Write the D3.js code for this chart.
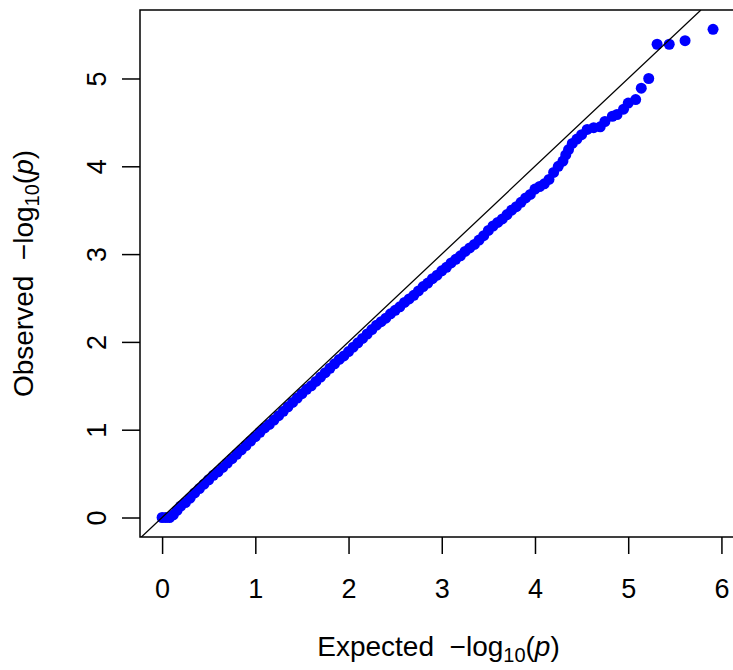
<!DOCTYPE html>
<html>
<head>
<meta charset="utf-8">
<script src="https://cdn.jsdelivr.net/npm/d3@7"></script>
<style>
  body { margin: 0; background: #fff; }
  text { font-family: "Liberation Sans", Arial, sans-serif; fill: #000; }
</style>
</head>
<body>
<div id="chart"></div>
<script>
let width = 733
let height = 670

// QQ points: expected vs observed -log10(p)
let expected = [
  0.00, 0.04, 0.08, 0.12, 0.16, 0.20, 0.25, 0.30, 0.35, 0.40,
  0.45, 0.50, 0.55, 0.60, 0.65, 0.70, 0.75, 0.80, 0.85, 0.90,
  0.95, 1.00, 1.05, 1.10, 1.15, 1.20, 1.25, 1.30, 1.35, 1.40,
  1.45, 1.50, 1.55, 1.60, 1.65, 1.70, 1.75, 1.80, 1.85, 1.90,
  1.95, 2.00, 2.05, 2.10, 2.15, 2.20, 2.25, 2.30, 2.35, 2.40,
  2.45, 2.50, 2.55, 2.60, 2.65, 2.70, 2.75, 2.80, 2.85, 2.90,
  2.95, 3.00, 3.05, 3.10, 3.15, 3.20, 3.25, 3.30, 3.35, 3.40,
  3.45, 3.50, 3.55, 3.60, 3.65, 3.70, 3.75, 3.80, 3.85, 3.90,
  3.95, 4.00, 4.05, 4.10, 4.15, 4.20, 4.25, 4.30, 4.33, 4.36,
  4.40, 4.45, 4.50, 4.56, 4.63, 4.70, 4.75, 4.83, 4.88, 4.95,
  5.00, 5.08, 5.14, 5.22, 5.31, 5.44, 5.61, 5.91
]
let observed = [
  0.00, 0.00, 0.00, 0.03, 0.08, 0.13, 0.17, 0.22, 0.28, 0.33,
  0.38, 0.43, 0.48, 0.52, 0.57, 0.62, 0.67, 0.72, 0.77, 0.82,
  0.87, 0.92, 0.97, 1.02, 1.06, 1.11, 1.16, 1.21, 1.26, 1.31,
  1.36, 1.41, 1.46, 1.50, 1.55, 1.60, 1.65, 1.70, 1.75, 1.80,
  1.84, 1.89, 1.94, 1.99, 2.04, 2.09, 2.14, 2.19, 2.23, 2.27,
  2.32, 2.36, 2.40, 2.45, 2.49, 2.53, 2.58, 2.63, 2.67, 2.72,
  2.76, 2.81, 2.85, 2.90, 2.94, 2.98, 3.03, 3.07, 3.11, 3.16,
  3.21, 3.27, 3.32, 3.36, 3.40, 3.45, 3.50, 3.54, 3.59, 3.64,
  3.68, 3.74, 3.77, 3.80, 3.85, 3.93, 4.00, 4.06, 4.13, 4.19,
  4.26, 4.31, 4.36, 4.42, 4.44, 4.45, 4.51, 4.57, 4.59, 4.65,
  4.72, 4.76, 4.89, 5.00, 5.39, 5.39, 5.43, 5.56
]

let xTicks = [0, 1, 2, 3, 4, 5, 6]
let yTicks = [0, 1, 2, 3, 4, 5]

// plot region (R style: data range padded by 4%)
let plot = { left: 140, right: 737, top: 10, bottom: 537 }

let xScale = d3.scaleLinear()
  .domain([-0.237, 6.167])
  .range([plot.left, plot.right])

let yScale = d3.scaleLinear()
  .domain([-0.222, 5.78])
  .range([plot.bottom, plot.top])

let svg = d3.select('#chart').append('svg')
  .attr('width', width)
  .attr('height', height)

svg.append('defs').append('clipPath').attr('id', 'clip')
  .append('rect')
  .attr('x', plot.left)
  .attr('y', plot.top)
  .attr('width', plot.right - plot.left)
  .attr('height', plot.bottom - plot.top)

// points
let pts = expected.map((e, i) => ({ e: e, o: observed[i] }))
svg.append('g')
  .selectAll('circle')
  .data(pts)
  .enter().append('circle')
  .attr('cx', d => xScale(d.e))
  .attr('cy', d => yScale(d.o))
  .attr('r', 5.5)
  .attr('fill', '#0000ff')

// y = x reference line
let lo = xScale.domain()[0]
let hi = yScale.domain()[1]
svg.append('line')
  .attr('clip-path', 'url(#clip)')
  .attr('x1', xScale(lo)).attr('y1', yScale(lo))
  .attr('x2', xScale(hi)).attr('y2', yScale(hi))
  .attr('stroke', '#000')
  .attr('stroke-width', 1.3)

// box
svg.append('rect')
  .attr('x', plot.left)
  .attr('y', plot.top)
  .attr('width', plot.right - plot.left)
  .attr('height', plot.bottom - plot.top)
  .attr('fill', 'none')
  .attr('stroke', '#000')
  .attr('stroke-width', 1.5)

// x axis
let xAxis = svg.append('g')
  .attr('transform', 'translate(0,' + plot.bottom + ')')
  .call(d3.axisBottom(xScale).tickValues(xTicks).tickSize(17).tickPadding(10).tickFormat(d => d.toString()))
xAxis.select('.domain').remove()
xAxis.selectAll('line').attr('stroke-width', 1.5)
xAxis.selectAll('text')
  .attr('font-size', 27)
  .attr('dy', null)
  .attr('y', 61)

// y axis
let yAxis = svg.append('g')
  .attr('transform', 'translate(' + plot.left + ',0)')
  .call(d3.axisLeft(yScale).tickValues(yTicks).tickSize(18).tickFormat(d => d.toString()))
yAxis.select('.domain').remove()
yAxis.selectAll('line').attr('stroke-width', 1.5)
yAxis.selectAll('text')
  .attr('font-size', 27)
  .attr('transform', 'rotate(-90)')
  .attr('text-anchor', 'middle')
  .attr('dy', null)
  .attr('x', 0)
  .attr('y', -34)

// axis titles with -log10(p)
let addTitle = (g, word) => {
  let t = g.append('text')
    .attr('font-size', 28)
    .attr('text-anchor', 'middle')
    .attr('xml:space', 'preserve')
  t.append('tspan').text(word + '  \u2212log')
  t.append('tspan').attr('font-size', 20).attr('dy', 6).text('10')
  t.append('tspan').attr('dy', -6).text('(')
  t.append('tspan').attr('font-style', 'italic').text('p')
  t.append('tspan').text(')')
  return t
}

addTitle(svg.append('g').attr('transform', 'translate(' + ((plot.left + plot.right) / 2) + ',656)'), 'Expected')
addTitle(svg.append('g').attr('transform', 'translate(33,' + ((plot.top + plot.bottom) / 2) + ') rotate(-90)'), 'Observed')
</script>
</body>
</html>
